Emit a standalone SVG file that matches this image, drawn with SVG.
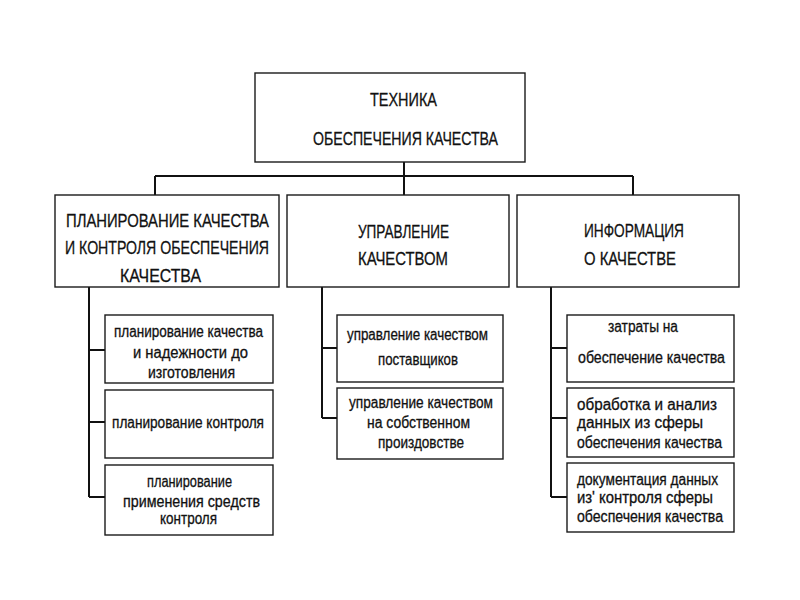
<svg xmlns="http://www.w3.org/2000/svg" width="800" height="600" viewBox="0 0 800 600">
<style>
.box{fill:#fff;stroke:#1a1a1a;stroke-width:1.4}
.con{fill:none;stroke:#111;stroke-width:2}
text{font-family:"Liberation Sans","DejaVu Sans",sans-serif;fill:#111;stroke:#111;stroke-width:0.3}
.cap{font-size:19px}
.sm{font-size:16px}
</style>
<rect width="800" height="600" fill="#fff"/>
<g id="connectors">
<path class="con" d="M404 162V176M155 176H633M155 176V195M404 176V195M633 176V195"/>
<path class="con" d="M89 287V497M89 350H105M89 422H105M89 497H105"/>
<path class="con" d="M322 287V418M322 348H337M322 418H337"/>
<path class="con" d="M551 287V497M551 348H567M551 418H567M551 497H567"/>
</g>
<g id="root">
<rect class="box" x="255" y="73" width="270" height="89"/>
<text class="cap" x="370" y="106" textLength="67" lengthAdjust="spacingAndGlyphs">ТЕХНИКА</text>
<text class="cap" x="313" y="145" textLength="185" lengthAdjust="spacingAndGlyphs">ОБЕСПЕЧЕНИЯ КАЧЕСТВА</text>
</g>
<g id="planning">
<rect class="box" x="55" y="195" width="224" height="92"/>
<text class="cap" x="66" y="227" textLength="203" lengthAdjust="spacingAndGlyphs">ПЛАНИРОВАНИЕ КАЧЕСТВА</text>
<text class="cap" x="65" y="254" textLength="204" lengthAdjust="spacingAndGlyphs">И КОНТРОЛЯ ОБЕСПЕЧЕНИЯ</text>
<text class="cap" x="120" y="282" textLength="81" lengthAdjust="spacingAndGlyphs">КАЧЕСТВА</text>
</g>
<g id="management">
<rect class="box" x="287" y="195" width="222" height="92"/>
<text class="cap" x="358" y="238" textLength="91" lengthAdjust="spacingAndGlyphs">УПРАВЛЕНИЕ</text>
<text class="cap" x="358" y="265" textLength="90" lengthAdjust="spacingAndGlyphs">КАЧЕСТВОМ</text>
</g>
<g id="information">
<rect class="box" x="517" y="195" width="222" height="92"/>
<text class="cap" x="584" y="237" textLength="100" lengthAdjust="spacingAndGlyphs">ИНФОРМАЦИЯ</text>
<text class="cap" x="584" y="265" textLength="92" lengthAdjust="spacingAndGlyphs">О КАЧЕСТВЕ</text>
</g>
<g id="p1">
<rect class="box" x="105" y="315" width="168" height="68"/>
<text class="sm" x="114" y="337" textLength="149" lengthAdjust="spacingAndGlyphs">планирование качества</text>
<text class="sm" x="133" y="358" textLength="115" lengthAdjust="spacingAndGlyphs">и надежности до</text>
<text class="sm" x="148" y="378" textLength="87" lengthAdjust="spacingAndGlyphs">изготовления</text>
</g>
<g id="p2">
<rect class="box" x="105" y="390" width="168" height="68"/>
<text class="sm" x="112" y="428" textLength="152" lengthAdjust="spacingAndGlyphs">планирование контроля</text>
</g>
<g id="p3">
<rect class="box" x="105" y="465" width="168" height="70"/>
<text class="sm" x="147" y="487" textLength="85" lengthAdjust="spacingAndGlyphs">планирование</text>
<text class="sm" x="123" y="507" textLength="137" lengthAdjust="spacingAndGlyphs">применения средств</text>
<text class="sm" x="160" y="524" textLength="57" lengthAdjust="spacingAndGlyphs">контроля</text>
</g>
<g id="m1">
<rect class="box" x="337" y="315" width="166" height="67"/>
<text class="sm" x="347" y="340" textLength="141" lengthAdjust="spacingAndGlyphs">управление качеством</text>
<text class="sm" x="378" y="365" textLength="80" lengthAdjust="spacingAndGlyphs">поставщиков</text>
</g>
<g id="m2">
<rect class="box" x="337" y="388" width="166" height="71"/>
<text class="sm" x="349" y="408" textLength="144" lengthAdjust="spacingAndGlyphs">управление качеством</text>
<text class="sm" x="367" y="428" textLength="103" lengthAdjust="spacingAndGlyphs">на собственном</text>
<text class="sm" x="378" y="448" textLength="86" lengthAdjust="spacingAndGlyphs">произдовстве</text>
</g>
<g id="i1">
<rect class="box" x="567" y="315" width="167" height="67"/>
<text class="sm" x="608" y="332" textLength="70" lengthAdjust="spacingAndGlyphs">затраты на</text>
<text class="sm" x="578" y="363" textLength="147" lengthAdjust="spacingAndGlyphs">обеспечение качества</text>
</g>
<g id="i2">
<rect class="box" x="567" y="388" width="167" height="69"/>
<text class="sm" x="577" y="410" textLength="140" lengthAdjust="spacingAndGlyphs">обработка и анализ</text>
<text class="sm" x="577" y="428" textLength="126" lengthAdjust="spacingAndGlyphs">данных из сферы</text>
<text class="sm" x="577" y="448" textLength="145" lengthAdjust="spacingAndGlyphs">обеспечения качества</text>
</g>
<g id="i3">
<rect class="box" x="567" y="463" width="167" height="69"/>
<text class="sm" x="577" y="485" textLength="141" lengthAdjust="spacingAndGlyphs">документация данных</text>
<text class="sm" x="577" y="503" textLength="136" lengthAdjust="spacingAndGlyphs">из' контроля сферы</text>
<text class="sm" x="577" y="522" textLength="146" lengthAdjust="spacingAndGlyphs">обеспечения качества</text>
</g>
</svg>
